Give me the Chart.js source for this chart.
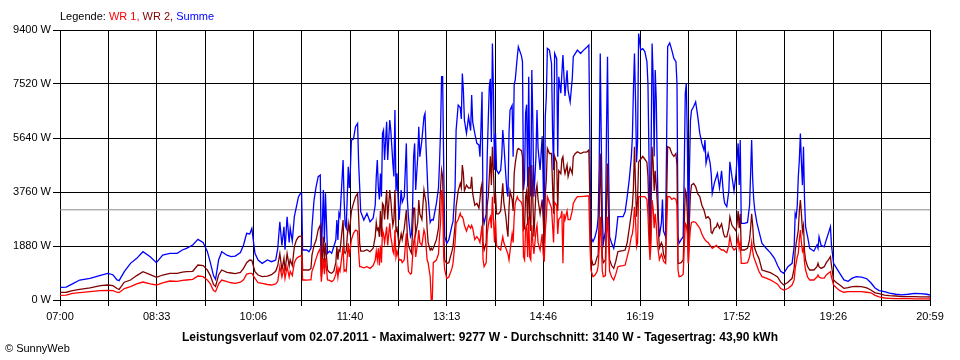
<!DOCTYPE html>
<html lang="de">
<head>
<meta charset="utf-8">
<title>Leistungsverlauf 02.07.2011</title>
<script src="https://cdn.jsdelivr.net/npm/chart.js@4.4.1/dist/chart.umd.min.js"></script>
<style>
  html,body{margin:0;padding:0;background:#fff;}
  #wrap{position:relative;width:960px;height:360px;font-family:"Liberation Sans",Arial,sans-serif;font-size:11px;color:#000;}
  #chart{position:absolute;left:0;top:0;}
  #legende{position:absolute;left:60px;top:10px;white-space:nowrap;}
  .wr1{color:#ff0000}.wr2{color:#800000}.summe{color:#0000ff}
  #titel{position:absolute;left:0;width:960px;top:330px;text-align:center;font-weight:bold;font-size:12px;white-space:nowrap;}
  #copy{position:absolute;left:5px;top:342px;white-space:nowrap;}
</style>
</head>
<body>
<div id="wrap">
  <canvas id="chart" width="960" height="360"></canvas>
  <div id="legende">Legende: <span class="wr1">WR 1,</span> <span class="wr2">WR 2,</span> <span class="summe">Summe</span></div>
  <div id="titel">Leistungsverlauf vom 02.07.2011 - Maximalwert: 9277 W - Durchschnitt: 3140 W - Tagesertrag: 43,90 kWh</div>
  <div id="copy">© SunnyWeb</div>
</div>
<script>
// Uhrzeiten der Messpunkte
const zeiten = [
  '07:00','07:06','07:12','07:19','07:29','07:39','07:46','07:51','07:55','07:57',
  '08:02','08:08','08:14','08:20','08:27','08:33','08:39','08:46','08:53','08:58',
  '09:02','09:08','09:13','09:18','09:22','09:25','09:28','09:30','09:33','09:36',
  '09:41','09:45','09:49','09:54','09:57','10:00','10:03','10:05','10:08','10:11',
  '10:15','10:20','10:24','10:28','10:30','10:32','10:34','10:36','10:37','10:39',
  '10:41','10:42','10:44','10:46','10:48','10:50','10:52','10:53','10:54','10:56',
  '10:58','11:00','11:02','11:03','11:05','11:07','11:09','11:11','11:12','11:14',
  '11:15','11:16','11:18','11:20','11:22','11:24','11:26','11:27','11:28','11:29',
  '11:30','11:33','11:34','11:35','11:36','11:38','11:39','11:40','11:41','11:43',
  '11:45','11:47','11:48','11:49','11:50','11:53','11:56','11:59','12:02','12:04',
  '12:05','12:06','12:07','12:08','12:09','12:10','12:11','12:12','12:13','12:15',
  '12:16','12:18','12:19','12:20','12:21','12:22','12:23','12:24','12:25','12:27',
  '12:29','12:30','12:32','12:34','12:35','12:36','12:38','12:39','12:40','12:41',
  '12:42','12:43','12:45','12:46','12:47','12:49','12:51','12:52','12:53','12:54',
  '12:55','12:57','12:58','12:59','13:00','13:03','13:05','13:06','13:07','13:08',
  '13:09','13:10','13:11','13:13','13:15','13:18','13:19','13:21','13:22','13:24',
  '13:26','13:27','13:28','13:29','13:30','13:32','13:34','13:36','13:37','13:38',
  '13:40','13:42','13:44','13:45','13:46','13:47','13:48','13:49','13:51','13:52',
  '13:53','13:54','13:55','13:56','13:57','13:58','13:59','14:00','14:01','14:03',
  '14:05','14:06','14:07','14:08','14:10','14:11','14:12','14:13','14:14','14:16',
  '14:17','14:18','14:19','14:21','14:22','14:25','14:26','14:27','14:28','14:29',
  '14:30','14:31','14:32','14:33','14:34','14:35','14:36','14:37','14:39','14:40',
  '14:41','14:43','14:45','14:46','14:47','14:48','14:49','14:50','14:52','14:54',
  '14:55','14:56','14:57','14:59','15:00','15:01','15:03','15:04','15:05','15:06',
  '15:07','15:09','15:10','15:12','15:14','15:15','15:17','15:19','15:22','15:25',
  '15:28','15:30','15:31','15:32','15:34','15:36','15:38','15:39','15:40','15:41',
  '15:42','15:43','15:44','15:46','15:47','15:48','15:49','15:50','15:52','15:54',
  '15:56','15:58','16:00','16:03','16:05','16:07','16:09','16:11','16:12','16:13',
  '16:14','16:15','16:16','16:17','16:18','16:19','16:20','16:22','16:24','16:26',
  '16:27','16:28','16:29','16:30','16:31','16:32','16:33','16:34','16:35','16:36',
  '16:37','16:38','16:40','16:41','16:42','16:44','16:45','16:46','16:48','16:50',
  '16:52','16:54','16:55','16:56','16:57','16:59','17:01','17:02','17:03','17:04',
  '17:05','17:06','17:07','17:08','17:09','17:11','17:13','17:15','17:17','17:19',
  '17:21','17:22','17:23','17:25','17:27','17:28','17:29','17:31','17:33','17:34',
  '17:36','17:38','17:40','17:41','17:43','17:45','17:46','17:48','17:50','17:52',
  '17:53','17:54','17:55','17:56','17:57','18:00','18:03','18:05','18:06','18:07',
  '18:08','18:09','18:10','18:12','18:14','18:17','18:21','18:25','18:29','18:32',
  '18:35','18:38','18:42','18:46','18:48','18:49','18:50','18:51','18:52','18:53',
  '18:54','18:55','18:56','18:57','18:58','18:59','19:01','19:03','19:07','19:10',
  '19:11','19:12','19:14','19:17','19:19','19:21','19:23','19:24','19:26','19:29',
  '19:32','19:36','19:40','19:44','19:48','19:53','19:58','20:02','20:06','20:10',
  '20:15','20:20','20:26','20:32','20:38','20:44','20:50','20:56','20:59'
];

// Leistung in W
const wr1 = [
  162,170,230,255,290,325,330,325,270,255,
  400,464,560,626,560,522,600,661,650,680,
  696,720,835,812,700,560,330,290,560,696,
  640,600,580,620,700,900,928,930,750,600,
  580,540,522,560,650,1160,800,1100,750,1160,
  800,1000,850,1300,1450,1500,1531,1531,696,700,
  690,700,700,1000,1200,1450,1650,1798,638,1450,
  900,1450,700,680,638,700,900,1160,800,1100,
  1000,1856,1000,1044,1000,1972,1500,1800,2100,2320,
  2436,2400,1700,1160,1160,1120,1160,1102,1200,1392,
  1700,1392,1800,1200,1900,1300,2436,2300,2000,2550,
  1900,2668,2200,2000,1700,1600,2436,1500,1700,1392,
  1400,1300,1400,2320,1500,1000,900,928,1500,2000,
  2200,1500,2000,2436,2000,1900,2436,2300,1900,1400,
  1300,812,0,0,1300,1392,1600,2200,2700,3828,
  3600,1500,1044,754,800,1100,1276,2000,2668,2800,
  3016,2900,2900,2800,2600,2400,2600,2500,2600,2500,
  2100,2204,2100,2000,2300,2600,1400,1160,1300,2300,
  2600,2800,2900,2500,3596,2800,2000,2800,1900,1800,
  1740,2000,2200,2000,1800,1700,1600,1392,1700,2300,
  2000,2900,3364,3596,3500,3400,3250,1508,1400,2500,
  2600,1500,2900,1500,1400,2600,2000,1600,2400,2600,
  2000,1740,2300,1600,1334,2400,2900,3596,3400,3200,
  2600,2000,3400,3300,2300,2800,2900,3100,1276,3000,
  2800,3100,2800,2800,3100,3364,3500,3596,3600,3610,
  3620,3620,2000,1044,812,870,1000,1200,1800,2900,
  2000,1000,812,850,2300,2900,2000,1000,800,696,
  900,1160,1180,1200,1218,1500,1800,2204,2300,2600,
  3248,2800,1856,2000,3596,3600,3596,3596,3600,3500,
  3000,2000,1392,2000,3480,3200,2500,3000,2600,2000,
  1700,1400,1600,1500,1350,1276,2500,3596,3596,3500,
  3550,3500,3300,1044,812,830,900,1800,2668,2600,
  2300,1276,2000,2500,2700,2726,2700,2600,2500,2300,
  2150,2100,2050,2000,1900,1850,1800,1850,1900,1856,
  1800,1740,1740,1700,1650,1900,2204,1850,1740,1800,
  2000,2200,1800,2000,1276,1276,1300,1500,1700,2000,
  1700,1500,1400,1200,1000,812,760,700,620,550,
  400,348,400,522,700,1100,1300,1500,1624,2100,
  2436,2000,1700,1800,1300,1044,800,696,696,800,
  870,800,760,760,870,930,986,800,522,420,
  325,270,290,290,290,290,270,250,160,110,
  70,60,50,45,45,40,40,38,35
];

const wr2 = [
  267,270,330,371,420,500,522,500,400,371,
  620,696,850,986,880,789,870,928,930,970,
  986,1000,1218,1200,1050,850,540,470,880,1044,
  960,940,920,960,1100,1300,1392,1380,986,870,
  812,830,880,1000,1200,1624,1050,1450,1000,1624,
  1180,1400,1200,1860,2088,2200,2227,2227,1044,1050,
  1044,1044,1100,1560,1900,2088,2450,2610,812,2200,
  1300,2000,1044,960,928,1000,1300,1856,1400,1740,
  1700,2784,1700,1624,1700,2668,2400,2700,3100,3364,
  3596,3712,2900,1972,1700,1700,1750,1680,1800,2204,
  2700,2436,2500,2200,3100,2200,3364,3300,2800,3828,
  2800,3828,3500,3000,2600,2800,3828,2400,2500,1900,
  2300,2100,2500,3132,2200,1900,1700,1624,2400,3200,
  3200,2300,2700,3480,3000,2800,3828,3600,3400,2500,
  2000,1740,1800,1740,1800,2100,2500,3200,3900,4524,
  4300,2500,1392,1276,1300,1700,1856,2600,3248,3800,
  4060,3900,4698,4400,3800,4000,3900,3900,4292,3700,
  3300,3364,3200,3500,3900,4060,2000,1740,2000,3300,
  3600,4300,5000,4000,5336,4500,3364,3700,3000,3000,
  3100,3596,4060,3400,2900,2500,2204,3200,3800,3500,
  3100,4400,4756,5220,5278,5200,5000,2436,2500,3600,
  3800,2600,4640,2800,2400,4700,3500,2204,3800,4000,
  3500,3000,3500,2800,1972,3700,4200,5278,5100,5100,
  4000,3000,5000,4800,3100,4500,4400,4900,4988,4600,
  4400,4700,4300,4600,4400,4988,5100,5162,5100,5150,
  5150,5220,3500,1508,1218,1250,1500,1560,2900,5104,
  3600,1500,1300,1400,3300,4756,3000,1400,1200,1102,
  1350,1682,1700,1720,1740,2000,2500,3016,3300,3900,
  5336,4000,2900,3500,4800,4872,4900,5000,4900,4800,
  4300,3000,1624,3000,5336,4800,3800,4500,4000,3400,
  2500,1800,2000,1900,1600,1392,3500,5336,5300,5100,
  5000,5100,4700,1276,1276,1300,1400,2600,3828,3700,
  3000,1276,2800,3700,4000,4060,3950,3700,3600,3300,
  3132,3000,2850,2900,2800,2350,2320,2500,2550,2668,
  2500,2650,2300,2200,2200,2500,2900,2600,2500,2400,
  2700,3100,2500,3000,1740,1740,1800,2100,2500,3000,
  2600,2000,1800,1600,1450,1044,1000,950,870,800,
  620,522,620,754,1100,1700,2000,2200,2436,3100,
  3480,3000,2400,2600,1700,1392,1160,1044,1044,1160,
  1276,1150,1100,1160,1300,1400,1508,1200,696,600,
  520,406,430,464,470,464,420,350,250,220,
  170,150,139,120,115,115,110,108,104
];

const summe = [
  441,450,560,696,750,860,928,880,700,672,
  986,1276,1450,1682,1508,1300,1566,1624,1624,1740,
  1798,1914,2111,2000,1700,1300,850,720,1400,1682,
  1560,1508,1530,1650,1914,2320,2300,2494,1624,1390,
  1276,1392,1334,1392,1798,2726,1900,2552,1750,2900,
  2000,2500,2050,2900,3248,3596,3712,3700,1740,1740,
  1740,1682,1800,2552,3480,3944,4292,4350,1508,3828,
  2000,3712,1624,1700,1624,1856,2088,2784,2088,3016,
  2900,4872,3480,2600,2500,4640,3900,4500,5568,5600,
  6032,6148,4756,3944,3074,2784,3016,2726,2850,3306,
  4292,4872,3900,3500,4400,3600,5800,5916,4872,6206,
  4872,6264,5916,5336,4756,4300,6612,3800,4408,2784,
  3828,3400,3600,5452,3500,2900,2204,2300,3200,4988,
  5452,3828,4988,6032,4988,5568,6380,6496,5336,4500,
  3600,2700,2784,2800,2784,3364,3900,4756,5916,7772,
  7772,4756,2204,1972,2100,2600,2726,3900,5916,6786,
  6700,6300,7888,7300,6264,5800,6380,5900,7134,6200,
  5800,5452,5400,4988,6032,7250,2900,2668,3000,5000,
  6264,7424,7700,5500,8932,7308,4524,5800,4524,4400,
  4524,4988,5916,5450,4300,3800,3596,5800,6612,6774,
  4988,7500,7656,8468,8816,8500,8300,3828,4200,6500,
  6800,3944,7772,4500,3600,8004,6200,3596,5000,6612,
  5300,4524,5700,4060,2436,6380,7076,8758,8700,8236,
  5916,4524,8584,8400,4988,7772,7200,7900,8526,7800,
  7100,8000,7300,6900,7700,8468,8584,8700,8584,8700,
  8800,8874,5500,2204,2030,2200,2500,2900,4700,8584,
  5500,2900,1972,2400,5800,8468,4756,2204,1972,1798,
  2204,2900,2900,2900,3074,3600,4200,4988,5700,7308,
  8584,7000,4800,5500,9277,9000,8700,8750,8650,8300,
  7540,5000,2204,5000,8932,7800,5000,8004,7000,4600,
  2900,2204,2700,3500,2400,2204,5500,8816,8950,8700,
  8410,8300,7540,2204,1972,2100,2204,4500,7192,7550,
  5600,1740,4500,6264,6600,6728,6900,6400,5800,5450,
  5220,5568,4756,5100,4756,4400,3712,4060,4300,4408,
  3900,4500,3600,3364,3250,3800,4814,4300,3800,4400,
  5000,5452,4000,5568,2668,2668,2700,3300,4400,5568,
  4200,3500,3132,2700,2400,1972,1800,1650,1450,1200,
  1000,928,1160,1276,1856,3016,2900,3300,4300,4872,
  5800,4800,4000,5336,3500,2552,2200,1798,1700,1914,
  1800,2204,1900,1850,2100,2320,2552,1900,1276,1100,
  928,700,650,760,812,800,740,600,420,325,
  290,240,200,180,200,232,220,200,174
];

const durchschnitt = 3140;
const yTicks = [0, 1880, 3760, 5640, 7520, 9400];
const xTickLabels = ['07:00','08:33','10:06','11:40','13:13','14:46','16:19','17:52','19:26','20:59'];
const startMin = 7 * 60;
const endMin = 20 * 60 + 59;

function toMin(s){
  const [h, m] = s.split(':').map(Number);
  return h * 60 + m - startMin;
}
function punkte(werte){
  return zeiten.map((t, i) => ({ x: toMin(t), y: werte[i] }));
}

const spanne = endMin - startMin;
const xGrid = (xTickLabels.length - 1) * 2; // Gitterlinie auch zwischen den Beschriftungen

const linie = (label, data, color, order, w) => ({
  label, data, borderColor: color, backgroundColor: color,
  borderWidth: w, pointRadius: 0, tension: 0, order
});

new Chart(document.getElementById('chart'), {
  type: 'line',
  data: {
    datasets: [
      linie('WR 1', punkte(wr1), '#ff0000', 0, 1.3),
      linie('WR 2', punkte(wr2), '#800000', 1, 1.3),
      linie('Summe', punkte(summe), '#0000ff', 2, 1.3),
      linie('Durchschnitt', [{ x: 0, y: durchschnitt }, { x: spanne, y: durchschnitt }], '#8c8c8c', 3, 1)
    ]
  },
  options: {
    responsive: false,
    animation: false,
    devicePixelRatio: 1,
    layout: { padding: { top: 30, right: 30, left: 0, bottom: 0 } },
    plugins: { legend: { display: false }, tooltip: { enabled: false }, title: { display: false } },
    scales: {
      x: {
        type: 'linear', min: 0, max: spanne,
        afterBuildTicks: (s) => { s.ticks = Array.from({ length: xGrid + 1 }, (_, i) => ({ value: i * spanne / xGrid })); },
        afterFit: (s) => { s.height = 60; },
        grid: { color: '#000', lineWidth: 1, tickLength: 6, drawTicks: true },
        border: { color: '#000', width: 1 },
        ticks: {
          autoSkip: false, maxRotation: 0, padding: 4, color: '#000',
          font: { family: '"Liberation Sans", Arial, sans-serif', size: 11 },
          callback: (v, i) => (i % 2 === 0 ? xTickLabels[i / 2] : '')
        }
      },
      y: {
        min: 0, max: 9400,
        afterBuildTicks: (s) => { s.ticks = yTicks.map(v => ({ value: v })); },
        afterFit: (s) => { s.width = 60; },
        grid: { color: '#000', lineWidth: 1, tickLength: 7, drawTicks: true },
        border: { color: '#000', width: 1 },
        ticks: {
          padding: 2, color: '#000',
          font: { family: '"Liberation Sans", Arial, sans-serif', size: 11 },
          callback: (v) => v + ' W'
        }
      }
    }
  }
});
</script>
</body>
</html>
